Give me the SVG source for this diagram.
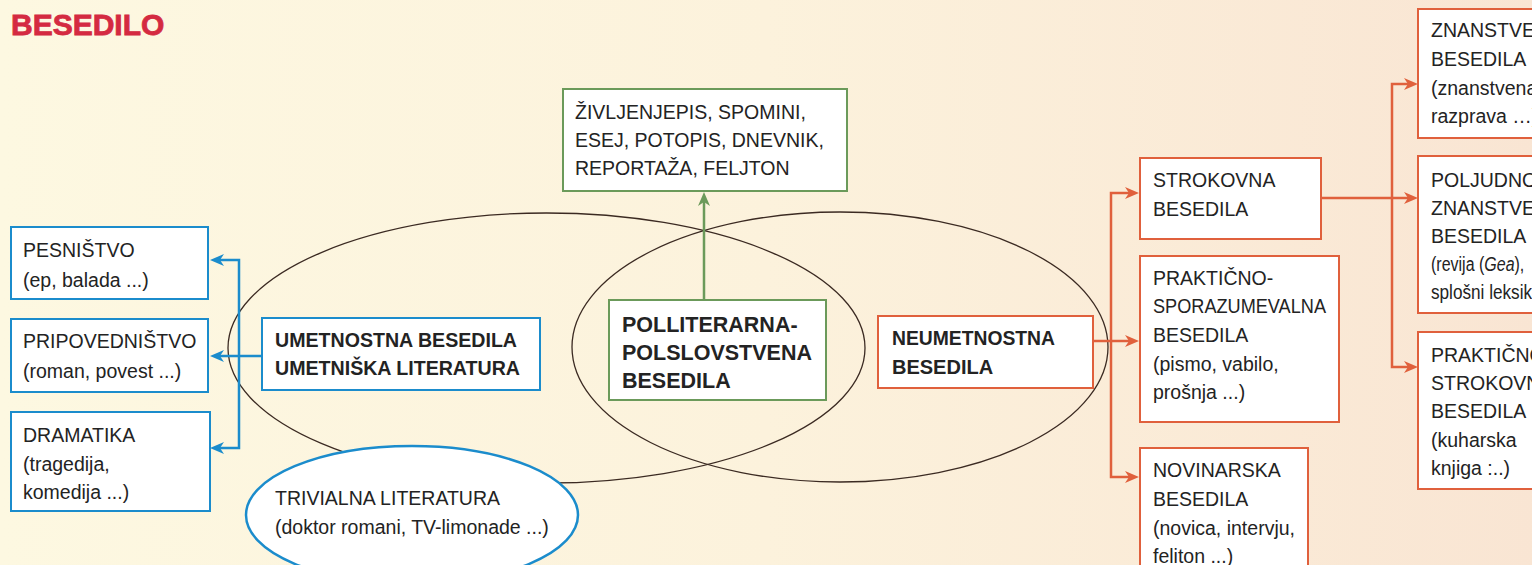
<svg xmlns="http://www.w3.org/2000/svg" width="1536" height="565" viewBox="0 0 1536 565">
<defs>
<linearGradient id="bg" x1="0" y1="0" x2="1" y2="0">
<stop offset="0" stop-color="#fdf8e1"/>
<stop offset="0.5" stop-color="#fcf2dc"/>
<stop offset="1" stop-color="#f9e5d3"/>
</linearGradient>
<marker id="mb" viewBox="0 0 14 12" refX="6" refY="6" markerWidth="14" markerHeight="12" markerUnits="userSpaceOnUse" orient="auto-start-reverse"><path d="M0,0 L14,6 L0,12 L4,6 Z" fill="#1b8ccc"/></marker>
<marker id="mo" viewBox="0 0 14 12" refX="6" refY="6" markerWidth="14" markerHeight="12" markerUnits="userSpaceOnUse" orient="auto-start-reverse"><path d="M0,0 L14,6 L0,12 L4,6 Z" fill="#e0603c"/></marker>
<marker id="mg" viewBox="0 0 14 12" refX="6" refY="6" markerWidth="14" markerHeight="12" markerUnits="userSpaceOnUse" orient="auto-start-reverse"><path d="M0,0 L14,6 L0,12 L4,6 Z" fill="#6b9a5a"/></marker>
<clipPath id="cr"><rect x="0" y="0" width="1532" height="565"/></clipPath>
</defs>
<style>
text{font-family:"Liberation Sans",Arial,sans-serif;font-size:19.5px;fill:#232323}
.b{font-weight:bold;font-size:20px}
.bp{font-weight:bold;font-size:21.5px}
.title{font-weight:bold;font-size:30px;fill:#d42a41;stroke:#d42a41;stroke-width:0.8}
.box{fill:#ffffff;stroke-width:2}
.blue{stroke:#1b8ccc}
.green{stroke:#6b9a5a}
.orange{stroke:#e0603c}
.ell{fill:none;stroke:#3b2a22;stroke-width:1.3}
.cb{fill:none;stroke:#1b8ccc;stroke-width:2.5}
.co{fill:none;stroke:#e0603c;stroke-width:2.5}
.cg{fill:none;stroke:#6b9a5a;stroke-width:2.5}
</style>
<rect x="0" y="0" width="1536" height="565" fill="url(#bg)"/>
<text class="title" x="11" y="35">BESEDILO</text>

<g id="sets">
<ellipse class="ell" cx="546.5" cy="348" rx="318.5" ry="135"/>
<ellipse class="ell" cx="840" cy="347" rx="268" ry="135"/>
</g>

<g id="connectors">
<path class="cb" d="M262,356 H218" marker-end="url(#mb)"/>
<path class="cb" d="M218,260 H239 V448 H218" marker-start="url(#mb)" marker-end="url(#mb)"/>
<path class="cg" d="M704,300 V200" marker-end="url(#mg)"/>
<path class="co" d="M1093,341 H1131" marker-end="url(#mo)"/>
<path class="co" d="M1131,193 H1111 V477 H1131" marker-start="url(#mo)" marker-end="url(#mo)"/>
<path class="co" d="M1321,198 H1410" marker-end="url(#mo)"/>
<path class="co" d="M1410,84 H1392 V367 H1410" marker-start="url(#mo)" marker-end="url(#mo)"/>
</g>

<g id="trivialna">
<ellipse cx="412" cy="515" rx="166" ry="69" fill="#ffffff" stroke="#1b8ccc" stroke-width="2.5"/>
<text x="275" y="505">TRIVIALNA LITERATURA</text>
<text x="275" y="534">(doktor romani, TV-limonade ...)</text>
</g>

<g id="pesnistvo">
<rect class="box blue" x="11" y="227" width="197" height="72"/>
<text x="23" y="257">PESNIŠTVO</text>
<text x="23" y="287">(ep, balada ...)</text>
</g>
<g id="pripovednistvo">
<rect class="box blue" x="11" y="319" width="197" height="73"/>
<text x="23" y="348">PRIPOVEDNIŠTVO</text>
<text x="23" y="378">(roman, povest ...)</text>
</g>
<g id="dramatika">
<rect class="box blue" x="11" y="412" width="199" height="99"/>
<text x="23" y="442">DRAMATIKA</text>
<text x="23" y="471">(tragedija,</text>
<text x="23" y="499">komedija ...)</text>
</g>
<g id="umetnostna">
<rect class="box blue" x="262" y="318" width="278" height="72"/>
<text class="b" x="275" y="347" textLength="242" lengthAdjust="spacingAndGlyphs">UMETNOSTNA BESEDILA</text>
<text class="b" x="275" y="375" textLength="245" lengthAdjust="spacingAndGlyphs">UMETNIŠKA LITERATURA</text>
</g>
<g id="zivljenjepis">
<rect class="box green" x="563" y="89" width="284" height="102"/>
<text x="575" y="119">ŽIVLJENJEPIS, SPOMINI,</text>
<text x="575" y="147">ESEJ, POTOPIS, DNEVNIK,</text>
<text x="575" y="175">REPORTAŽA, FELJTON</text>
</g>
<g id="polliterarna">
<rect class="box green" x="609" y="300" width="217" height="100"/>
<text class="bp" x="622" y="332">POLLITERARNA-</text>
<text class="bp" x="622" y="360">POLSLOVSTVENA</text>
<text class="bp" x="622" y="388">BESEDILA</text>
</g>
<g id="neumetnostna">
<rect class="box orange" x="878" y="316" width="215" height="72"/>
<text class="b" x="892" y="345" textLength="163" lengthAdjust="spacingAndGlyphs">NEUMETNOSTNA</text>
<text class="b" x="892" y="374">BESEDILA</text>
</g>
<g id="strokovna">
<rect class="box orange" x="1140" y="158" width="181" height="81"/>
<text x="1153" y="187">STROKOVNA</text>
<text x="1153" y="216">BESEDILA</text>
</g>
<g id="prakticno-sporazumevalna">
<rect class="box orange" x="1140" y="256" width="199" height="166"/>
<text x="1153" y="285">PRAKTIČNO-</text>
<text x="1153" y="313" textLength="173" lengthAdjust="spacingAndGlyphs">SPORAZUMEVALNA</text>
<text x="1153" y="342">BESEDILA</text>
<text x="1153" y="371">(pismo, vabilo,</text>
<text x="1153" y="399">prošnja ...)</text>
</g>
<g id="novinarska">
<rect class="box orange" x="1140" y="448" width="168" height="140"/>
<text x="1153" y="477">NOVINARSKA</text>
<text x="1153" y="506">BESEDILA</text>
<text x="1153" y="535">(novica, intervju,</text>
<text x="1153" y="563">feliton ...)</text>
</g>
<g clip-path="url(#cr)">
<g id="znanstvena">
<rect class="box orange" x="1418" y="9" width="200" height="129"/>
<text x="1431" y="37">ZNANSTVE</text>
<text x="1431" y="66">BESEDILA</text>
<text x="1431" y="95">(znanstvena</text>
<text x="1431" y="123">razprava …)</text>
</g>
<g id="poljudnoznanstvena">
<rect class="box orange" x="1418" y="156" width="200" height="157"/>
<text x="1431" y="187">POLJUDNO</text>
<text x="1431" y="215">ZNANSTVE</text>
<text x="1431" y="243">BESEDILA</text>
<text transform="translate(1431,271) scale(0.82,1)" x="0" y="0">(revija (<tspan font-style="italic">Gea</tspan>),</text>
<text transform="translate(1431,299) scale(0.88,1)" x="0" y="0">splošni leksik</text>
</g>
<g id="prakticno-strokovna">
<rect class="box orange" x="1418" y="332" width="200" height="157"/>
<text x="1431" y="362">PRAKTIČNO</text>
<text x="1431" y="390">STROKOVN</text>
<text x="1431" y="418">BESEDILA</text>
<text x="1431" y="447">(kuharska</text>
<text x="1431" y="475">knjiga :..)</text>
</g>
</g>
<rect x="1532" y="0" width="4" height="565" fill="#ffffff"/>
</svg>
